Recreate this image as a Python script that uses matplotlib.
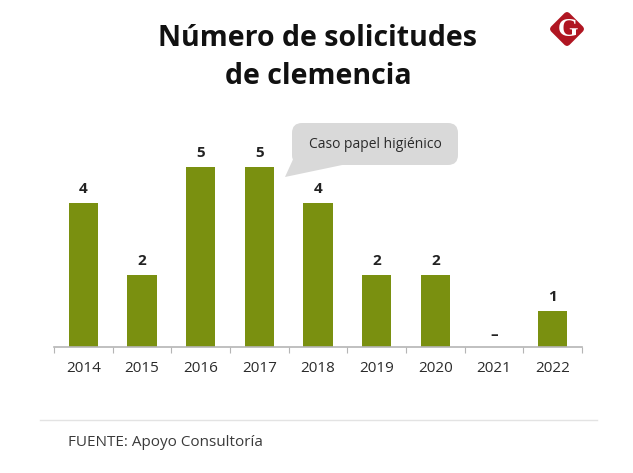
import matplotlib
matplotlib.use("Agg")
import matplotlib.pyplot as plt
from matplotlib.patches import FancyBboxPatch, Polygon
from matplotlib.lines import Line2D
from matplotlib.transforms import Affine2D

years = ["2014", "2015", "2016", "2017", "2018", "2019", "2020", "2021", "2022"]
requests = [4, 2, 5, 5, 4, 2, 2, 0, 1]
value_labels = ["4", "2", "5", "5", "4", "2", "2", "–", "1"]

W, H = 633, 473
plt.rcParams["font.family"] = ["Open Sans", "DejaVu Sans"]

fig = plt.figure(figsize=(W / 100, H / 100), dpi=100, facecolor="white")

# everything in the overlay is placed in pixels, y going down
bg = fig.add_axes([0, 0, 1, 1])
bg.set_xlim(0, W)
bg.set_ylim(H, 0)
bg.axis("off")

# title
bg.text(318, 38, "Número de solicitudes", ha="center", va="center", fontsize=20.5, fontweight="bold", color="#111111")
bg.text(318, 76, "de clemencia", ha="center", va="center", fontsize=20.5, fontweight="bold", color="#111111")

# bars
ax = fig.add_axes([54 / W, 1 - 347 / H, 528 / W, 216 / H])
x = range(len(years))
ax.bar(x, requests, width=0.5, color="#7a9010")
ax.set_xlim(-0.5, 8.5)
ax.set_ylim(0, 6)
ax.patch.set_alpha(0)
for s in ["top", "left", "right"]:
    ax.spines[s].set_visible(False)
ax.spines["bottom"].set_color("#b5b5b5")
ax.spines["bottom"].set_linewidth(1.2)
ax.set_yticks([])
ax.set_xticks([i - 0.5 for i in range(len(years) + 1)])
ax.set_xticklabels([])
ax.tick_params(axis="x", length=4, width=0.8, color="#b5b5b5", direction="out")
for i, year in enumerate(years):
    ax.annotate(year, (i, 0), xytext=(0, -21), textcoords="offset pixels", ha="center", va="center",
                fontsize=11, color="#2b2b2b")
for i, (val, lab) in enumerate(zip(requests, value_labels)):
    off = 14 if val > 0 else 12
    ax.annotate(lab, (i, val), xytext=(0, off), textcoords="offset pixels", ha="center", va="center",
                fontsize=11, fontweight="bold", color="#222222")

# callout
bg.add_patch(FancyBboxPatch((298, 129), 154, 30, boxstyle="round,pad=6,rounding_size=10",
                            fc="#d9d9d9", ec="none", zorder=3))
bg.add_patch(Polygon([[295, 155], [285, 177], [347, 164]], closed=True, fc="#d9d9d9", ec="none", zorder=3))
bg.text(375, 144, "Caso papel higiénico", ha="center", va="center", fontsize=10, color="#2b2b2b", zorder=4)

# footer
bg.add_line(Line2D([40, 597], [419.5, 419.5], color="#e3e3e3", lw=1))
bg.text(68, 442, "FUENTE: Apoyo Consultoría", ha="left", va="center", fontsize=11, color="#3a3a3a")

# logo
diamond = FancyBboxPatch((-13, -13), 26, 26, boxstyle="round,pad=0,rounding_size=4", fc="#b01622", ec="none",
                         transform=Affine2D().rotate_deg(45).translate(567, 29) + bg.transData)
bg.add_patch(diamond)
bg.text(568, 29, "G", ha="center", va="center", fontsize=19, fontweight="bold", color="white", family="Liberation Serif")

fig.savefig("out.png", dpi=100)
